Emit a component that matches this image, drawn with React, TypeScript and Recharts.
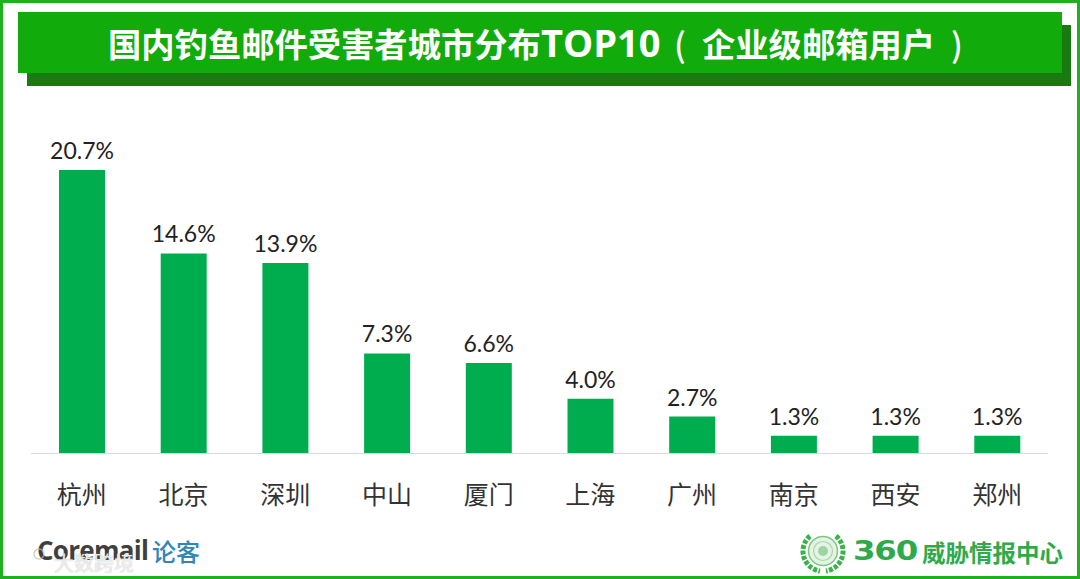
import { Bar, BarChart, LabelList, XAxis, YAxis } from "recharts";

const cities = ["杭州", "北京", "深圳", "中山", "厦门", "上海", "广州", "南京", "西安", "郑州"];
const shares = [20.7, 14.6, 13.9, 7.3, 6.6, 4.0, 2.7, 1.3, 1.3, 1.3];

const chartData = cities.map((city, i) => ({ city, share: shares[i] }));

const cjk = '"Noto Sans CJK SC", "Noto Sans", sans-serif';

export default function App() {
  return (
    <div style={{ position: "absolute", left: 0, top: 0, width: 1080, height: 579, background: "#fff", overflow: "hidden" }}>
      <div style={{ position: "absolute", left: 27, top: 25, width: 1044, height: 61, background: "#1a7a12" }} />
      <div
        style={{
          position: "absolute",
          left: 18,
          top: 12,
          width: 1044,
          height: 61,
          background: "#12ab0c",
          color: "#fff",
          fontFamily: cjk,
          fontWeight: 700,
          fontSize: 33.3,
          lineHeight: "61px",
          whiteSpace: "nowrap",
        }}
      >
        <span style={{ position: "absolute", left: 90, top: 0 }}>国内钓鱼邮件受害者城市分布</span>
        <span style={{ position: "absolute", left: 523, top: 0, fontFamily: '"Open Sans", sans-serif', fontSize: 38 }}>TOP10</span>
        <span style={{ position: "absolute", left: 656, top: 0, fontWeight: 500 }}>(</span>
        <span style={{ position: "absolute", left: 684, top: 0 }}>企业级邮箱用户</span>
        <span style={{ position: "absolute", left: 933, top: 0, fontWeight: 500 }}>)</span>
      </div>

      <div style={{ position: "absolute", left: 0, top: 110 }}>
        <BarChart width={1080} height={469} data={chartData} margin={{ top: 1, right: 32, bottom: 65.5, left: 31 }} barCategoryGap={0}>
          <XAxis
            dataKey="city"
            height={60}
            interval={0}
            stroke="#d9d9d9"
            tickLine={false}
            tickMargin={27}
            tick={{ fontSize: 25, fill: "#333", fontFamily: cjk }}
          />
          <YAxis hide domain={[0, 25]} />
          <Bar dataKey="share" fill="#00ad4e" barSize={46} isAnimationActive={false}>
            <LabelList
              dataKey="share"
              position="top"
              offset={11}
              formatter={(v: number) => `${v.toFixed(1)}%`}
              style={{ fontSize: 23, fill: "#222", fontFamily: "Lato, sans-serif" }}
            />
          </Bar>
        </BarChart>
      </div>

      <div style={{ position: "absolute", left: 37, top: 533, fontFamily: '"Open Sans", sans-serif', fontWeight: 700, fontSize: 26, lineHeight: "34px", color: "#3f3f3f", letterSpacing: -0.7 }}>
        Coremail
      </div>
      <div style={{ position: "absolute", left: 152, top: 534, fontFamily: cjk, fontWeight: 500, fontSize: 24, lineHeight: "34px", color: "#2f86b8" }}>论客</div>
      <svg style={{ position: "absolute", left: 8, top: 544 }} width={40} height={32}>
        <circle cx={18} cy={14} r={11} fill="none" stroke="rgba(255,255,255,0.85)" strokeWidth={3} />
        <circle cx={31} cy={10} r={5} fill="none" stroke="rgba(190,190,190,0.7)" strokeWidth={1.5} />
      </svg>
      <div style={{ position: "absolute", left: 54, top: 551, fontFamily: cjk, fontSize: 20, lineHeight: "24px", color: "rgba(255,255,255,0.8)", textShadow: "0 0 1px #aaa" }}>大数跨境</div>

      <svg style={{ position: "absolute", left: 798, top: 530 }} width={50} height={46}>
        <path d="M12 6 A20 20 0 0 0 22 41" fill="none" stroke="#3cb24a" strokeWidth={5} strokeDasharray="4 1.5" />
        <path d="M38 6 A20 20 0 0 1 28 41" fill="none" stroke="#3cb24a" strokeWidth={5} strokeDasharray="4 1.5" />
        <circle cx={25} cy={21} r={14.5} fill="#e4f3e4" stroke="#7cc784" strokeWidth={1.5} />
        <circle cx={25} cy={21} r={9.5} fill="none" stroke="#a6d8a9" strokeWidth={1.2} />
        <circle cx={25} cy={21} r={5} fill="#9ed3a2" />
      </svg>
      <div style={{ position: "absolute", left: 853, top: 531, fontFamily: '"DejaVu Sans", sans-serif', fontWeight: 700, fontSize: 27, lineHeight: "40px", color: "#2faa4a", letterSpacing: -1, transform: "scaleX(1.2)", transformOrigin: "left" }}>
        360
      </div>
      <div style={{ position: "absolute", left: 922, top: 533, fontFamily: cjk, fontWeight: 700, fontSize: 23.5, lineHeight: "38px", color: "#2faa4a", whiteSpace: "nowrap" }}>
        威胁情报中心
      </div>

      <div style={{ position: "absolute", inset: 0, border: "3px solid #1fb01f", boxSizing: "border-box", pointerEvents: "none" }} />
    </div>
  );
}
